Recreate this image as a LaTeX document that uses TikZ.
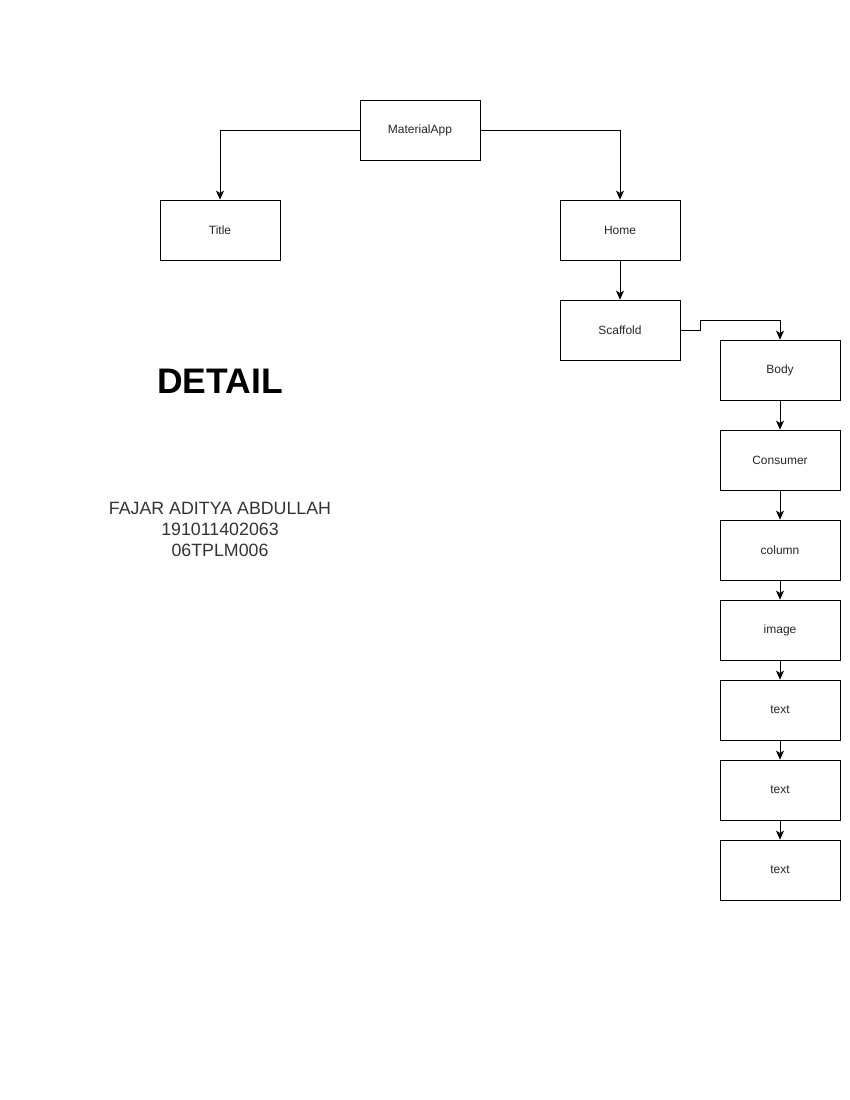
\documentclass[tikz,border=0pt]{standalone}
\usepackage{fontspec}
\setmainfont{Liberation Sans}
\usetikzlibrary{arrows.meta}
\begin{document}
\begin{tikzpicture}[x=1pt,y=-1pt,
  box/.style={draw,line width=0.8pt,minimum width=120pt,minimum height=60pt,inner sep=0pt,
    font=\fontsize{12}{14}\selectfont,text=black!85},
  link/.style={line width=0.8pt,-{Stealth[length=9pt,width=8pt,inset=2.5pt]}}]
\useasboundingbox (0,0) rectangle (850,1100);
% tree of widgets
\node[box] (app)  at (420,130) {MaterialApp};
\node[box] (title) at (220,230) {Title};
\node[box] (home) at (620,230) {Home};
\node[box] (scaf) at (620,330) {Scaffold};
\node[box] (body) at (780,370) {Body};
\node[box] (cons) at (780,460) {Consumer};
\node[box] (col)  at (780,550) {column};
\node[box] (img)  at (780,630) {image};
\node[box] (t1)   at (780,710) {text};
\node[box] (t2)   at (780,790) {text};
\node[box] (t3)   at (780,870) {text};
% connectors
\draw[link] (app.west) -| (title.north);
\draw[link] (app.east) -| (home.north);
\draw[link] (home) -- (scaf);
\draw[link] (scaf.east) -- ++(20,0) -- ++(0,-10) -| (body.north);
\draw[link] (body) -- (cons);
\draw[link] (cons) -- (col);
\draw[link] (col) -- (img);
\draw[link] (img) -- (t1);
\draw[link] (t1) -- (t2);
\draw[link] (t2) -- (t3);
% heading and author
\node[font=\fontsize{35.5}{40}\selectfont\bfseries] (head) at (220,381) {DETAIL};
\node[font=\fontsize{17.8}{21}\selectfont,text=black!80,align=center] (author) at (220,529)
  {FAJAR ADITYA ABDULLAH\\191011402063\\06TPLM006};
\end{tikzpicture}
\end{document}
